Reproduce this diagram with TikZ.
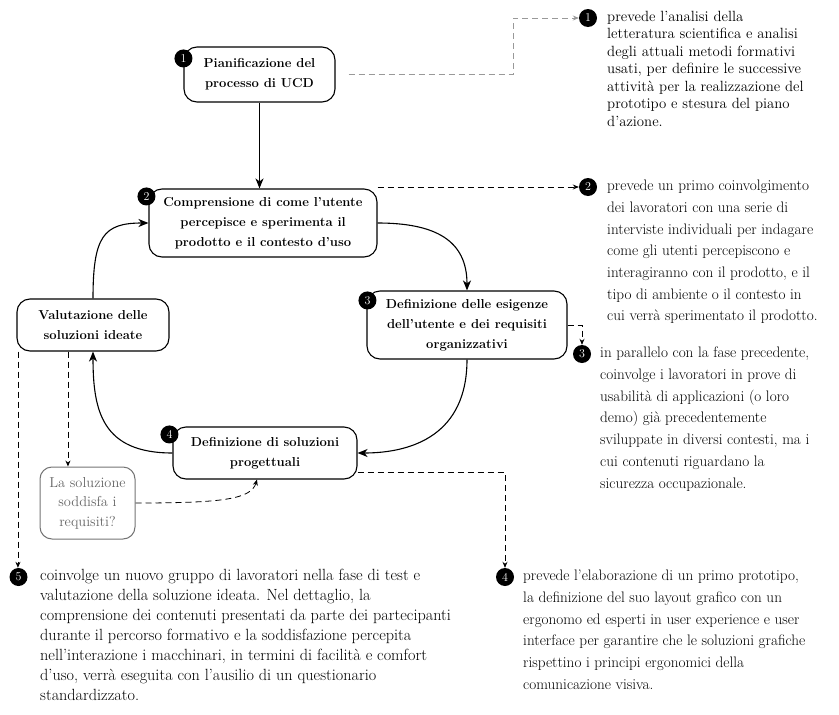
\documentclass[tikz,border=0pt]{standalone}
\usepackage{fontspec}
\usetikzlibrary{arrows.meta,calc}
\begin{document}
\begin{tikzpicture}[x=1pt,y=-1pt,
  box/.style={draw,line width=1.1pt,rounded corners=13pt,align=center,inner sep=0pt,
    font=\fontsize{13}{20}\selectfont\bfseries},
  qbox/.style={draw=black!55,line width=1pt,rounded corners=12pt,align=center,inner sep=0pt,
    text=black!60,font=\fontsize{14.4}{19.5}\selectfont},
  badge/.style={circle,fill=black,text=white,inner sep=0pt,minimum size=18pt,
    font=\fontsize{12}{12}\selectfont},
  desc/.style={anchor=north west,align=left,inner sep=0pt},
  flow/.style={line width=1.1pt,-{Stealth[length=10pt,width=8pt,inset=3pt]}},
  dlink/.style={line width=0.8pt,dash pattern=on 6pt off 4pt,-{Stealth[length=6pt,width=5pt]}},
]
\useasboundingbox (0,0) rectangle (839,715);

% process boxes
\node[box,minimum width=151pt,minimum height=55pt] (b1) at (259.5,74.5) {Pianificazione del\\processo di UCD};
\node[box,minimum width=228pt,minimum height=68pt] (b2) at (263,223) {Comprensione di come l'utente\\percepisce e sperimenta il\\prodotto e il contesto d'uso};
\node[box,minimum width=200pt,minimum height=68pt] (b3) at (467,325) {Definizione delle esigenze\\dell'utente e dei requisiti\\organizzativi};
\node[box,minimum width=184pt,minimum height=52pt] (b4) at (265,453) {Definizione di soluzioni\\progettuali};
\node[box,minimum width=152pt,minimum height=52pt] (val) at (93,325) {Valutazione delle\\soluzioni ideate};
\node[qbox,minimum width=95pt,minimum height=72pt] (q) at (87.5,503) {La soluzione\\soddisfa i\\requisiti?};

% badges on boxes
\node[badge] (n1) at ($(b1.north west)+(0,12)$) {1};
\node[badge] (n2) at ($(b2.north west)+(-2,8)$) {2};
\node[badge] (n3) at ($(b3.north west)+(1,10)$) {3};
\node[badge] (n4) at ($(b4.north west)+(-3,8)$) {4};

% description badges
\node[badge] (r1) at (588,18) {1};
\node[badge] (r2) at (588,187) {2};
\node[badge] (r3) at (582,354) {3};
\node[badge] (r4) at (505,577) {4};
\node[badge] (r5) at (18.5,577) {5};

% descriptions
\node[desc,font=\fontsize{14.8}{17.5}\selectfont] (t1) at (607,11) {prevede l'analisi della\\letteratura scientifica e analisi\\degli attuali metodi formativi\\usati, per definire le successive\\attività per la realizzazione del\\prototipo e stesura del piano\\d'azione.};
\node[desc,font=\fontsize{15.2}{21.7}\selectfont] (t2) at (607,180) {prevede un primo coinvolgimento\\dei lavoratori con una serie di\\interviste individuali per indagare\\come gli utenti percepiscono e\\interagiranno con il prodotto, e il\\tipo di ambiente o il contesto in\\cui verrà sperimentato il prodotto.};
\node[desc,font=\fontsize{15.2}{21.7}\selectfont] (t3) at (600,347) {in parallelo con la fase precedente,\\coinvolge i lavoratori in prove di\\usabilità di applicazioni (o loro\\demo) già precedentemente\\sviluppate in diversi contesti, ma i\\cui contenuti riguardano la\\sicurezza occupazionale.};
\node[desc,font=\fontsize{15.2}{21.7}\selectfont] (t4) at (523,570) {prevede l'elaborazione di un primo prototipo,\\la definizione del suo layout grafico con un\\ergonomo ed esperti in user experience e user\\interface per garantire che le soluzioni grafiche\\rispettino i principi ergonomici della\\comunicazione visiva.};
\node[desc,font=\fontsize{16.2}{20}\selectfont] (t5) at (40,569) {coinvolge un nuovo gruppo di lavoratori nella fase di test e\\valutazione della soluzione ideata. Nel dettaglio, la\\comprensione dei contenuti presentati da parte dei partecipanti\\durante il percorso formativo e la soddisfazione percepita\\nell'interazione i macchinari, in termini di facilità e comfort\\d'uso, verrà eseguita con l'ausilio di un questionario\\standardizzato.};

% main cycle
\draw[flow] (b1.south) -- (b1.south |- b2.north);
\draw[flow] (b2.east) .. controls ($(b2.east)+(58,0)$) and ($(b3.north)+(0,-50)$) .. (b3.north);
\draw[flow] (b3.south) .. controls ($(b3.south)+(0,75)$) and ($(b4.east)+(55,0)$) .. (b4.east);
\draw[flow] (b4.west) .. controls ($(b4.west)+(-70,0)$) and ($(val.south)+(0,60)$) .. (val.south);
\draw[flow] (val.north) .. controls ($(val.north)+(0,-62)$) and ($(b2.west)+(-45,0)$) .. (b2.west);

% dashed links
\coordinate (k1) at (513,0);
\coordinate (d1) at ($(b1.east)+(13,0)$);
\draw[dlink,draw=black!40] (d1) -- (d1 -| k1) |- (r1.west);
\draw[dlink] (b2.north east |- r2.west) -- (r2.west);
\draw[dlink] (b3.east) -| (r3.north);
\coordinate (d4) at ($(b4.south east)+(0,-7)$);
\draw[dlink] (d4) -| (r4.north);
\coordinate (d5) at ($(val.south west)+(1.5,0)$);
\draw[dlink] (d5) -- (d5 |- r5.north);
\coordinate (d6) at ($(val.south west)+(51.5,0)$);
\draw[dlink] (d6) -- (d6 |- q.north);
\draw[dlink] (q.east) .. controls ($(q.east)+(85,0)$) and ($(b4.south)+(-14,20)$) .. ($(b4.south)+(-8,0)$);
\end{tikzpicture}
\end{document}
